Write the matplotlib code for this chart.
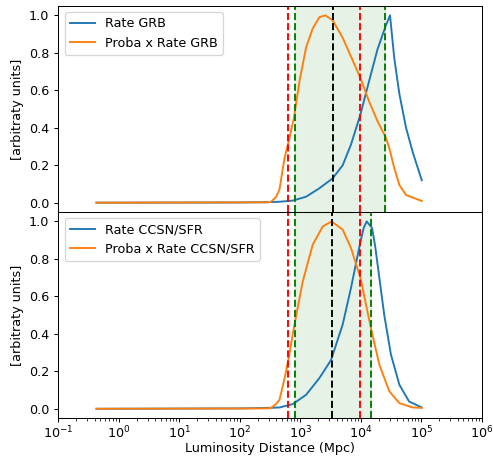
import numpy as np
import matplotlib
matplotlib.use("Agg")
import matplotlib.pyplot as plt

# --- GRB panel (distance in Mpc, arbitrary units) ---
grb_rate_d = [0.43, 100, 316, 455, 755, 1256, 2080, 3451, 5047, 6918, 9886,
              13800, 19050, 25700, 30550, 35970, 43650, 56230, 72440, 102300]
grb_rate_y = [0.0, 0.001, 0.003, 0.005, 0.011, 0.032, 0.077, 0.13, 0.20, 0.31, 0.47,
              0.65, 0.82, 0.94, 1.0, 0.77, 0.58, 0.40, 0.27, 0.12]

grb_proba_d = [0.43, 300, 331, 398, 455, 550, 646, 785, 977, 1256, 1614, 2080, 2612,
               3451, 5047, 6918, 9886, 13800, 19050, 26300, 29790, 35970, 43650,
               56230, 102300]
grb_proba_y = [0.0, 0.002, 0.005, 0.03, 0.07, 0.237, 0.327, 0.45, 0.65, 0.83, 0.93, 0.99, 1.0,
               0.973, 0.88, 0.78, 0.666, 0.54, 0.434, 0.345, 0.29, 0.184, 0.094,
               0.041, 0.009]

grb_red = [641, 9890]
grb_green = [806, 25600]
grb_black = 3450

# --- CCSN/SFR panel ---
sn_rate_d = [0.43, 100, 316, 455, 755, 1256, 2080, 3236, 5047, 6918, 9886, 11220, 12560,
             15420, 17380, 19050, 24550, 31620, 43650, 63100, 102300]
sn_rate_y = [0.0, 0.002, 0.005, 0.007, 0.025, 0.075, 0.164, 0.26, 0.45, 0.645, 0.89, 0.965, 1.0,
             0.965, 0.867, 0.77, 0.50, 0.29, 0.128, 0.039, 0.007]

sn_proba_d = [0.43, 300, 331, 398, 455, 550, 646, 805, 1104, 1614, 2360, 3311,
              5047, 6918, 9886, 14790, 20370, 29790, 43650, 72440, 102300]
sn_proba_y = [0.0, 0.002, 0.005, 0.025, 0.048, 0.16, 0.27, 0.45, 0.68, 0.876, 0.973, 1.0,
              0.956, 0.858, 0.70, 0.43, 0.235, 0.093, 0.03, 0.007, 0.005]

sn_red = [641, 9890]
sn_green = [806, 14860]
sn_black = 3320

panels = [
    (grb_rate_d, grb_rate_y, grb_proba_d, grb_proba_y, grb_red, grb_green, grb_black,
     "Rate GRB", "Proba x Rate GRB"),
    (sn_rate_d, sn_rate_y, sn_proba_d, sn_proba_y, sn_red, sn_green, sn_black,
     "Rate CCSN/SFR", "Proba x Rate CCSN/SFR"),
]

DPI = 91.5
fig, axes = plt.subplots(2, 1, sharex=True, figsize=(493 / DPI, 457 / DPI), dpi=DPI)
fig.subplots_adjust(left=0.118, right=0.977, top=0.987, bottom=0.085, hspace=0)

for ax, (rd, ry, pd_, py, red, green, black, lab1, lab2) in zip(axes, panels):
    ax.plot(rd, ry, color="C0", label=lab1)
    ax.plot(pd_, py, color="C1", label=lab2)
    ax.axvspan(green[0], green[1], color="green", alpha=0.1)
    for r in red:
        ax.axvline(r, color="r", linestyle="--")
    for g in green:
        ax.axvline(g, color="g", linestyle="--")
    ax.axvline(black, color="k", linestyle="--")
    ax.set_xscale("log")
    ax.set_ylabel("[arbitraty units]")
    ax.legend(loc="upper left")

axes[1].set_xlim(1e-1, 1e6)
axes[1].tick_params(axis="x", pad=1.5)
axes[1].set_xlabel("Luminosity Distance (Mpc)", labelpad=0.5)

fig.savefig("out.png", dpi=DPI)
